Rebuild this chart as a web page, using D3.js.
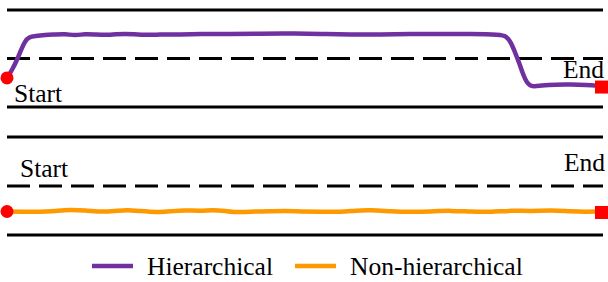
<!DOCTYPE html>
<html lang="en">
<head>
<meta charset="UTF-8">
<title>Hierarchical vs Non-hierarchical</title>
<script src="https://d3js.org/d3.v7.min.js"></script>
<style>
  body { margin: 0; background: #fff; }
  svg text { font-family: "Liberation Serif", "Times New Roman", serif; font-size: 25.5px; fill: #000; }
</style>
</head>
<body>
<script>
// progress along the task (0..100) and height inside each band (0 = lower rule, 1 = upper rule)
const hierX = [0, 0.84, 1.69, 2.36, 3.04, 3.71, 4.72, 6.41, 8.09, 9.78, 11.47, 13.15, 14.84, 17.37, 19.9, 22.43,
  25.8, 29.17, 32.55, 37.6, 42.66, 47.72, 52.78, 57.84, 62.9, 67.96, 73.02, 78.08, 83.14, 83.98, 84.82,
  85.5, 86.17, 86.85, 87.52, 88.36, 89.88, 92.41, 94.94, 97.47, 100];
const hierY = [0.30, 0.38, 0.485, 0.588, 0.68, 0.722, 0.732, 0.742, 0.747, 0.753, 0.737, 0.753, 0.747, 0.742,
  0.758, 0.742, 0.747, 0.747, 0.753, 0.753, 0.756, 0.758, 0.753, 0.747, 0.745, 0.753, 0.753, 0.755,
  0.747, 0.732, 0.67, 0.567, 0.464, 0.34, 0.247, 0.206, 0.222, 0.232, 0.232, 0.227, 0.216];

const flatX = [0, 2.2, 5.6, 8.1, 10.6, 13.2, 15.7, 18.2, 20.2, 22.4, 25.3, 27.5, 29.7, 32.5, 34.7, 36.8, 39,
  41.8, 44.4, 46.9, 49.4, 52.8, 56.2, 58.7, 61.2, 64.6, 68, 71.3, 74.7, 78.1, 81.5, 84.8, 88.2, 91.6,
  94.9, 97.5, 100];
const flatY = [0.24, 0.237, 0.235, 0.245, 0.26, 0.25, 0.237, 0.245, 0.257, 0.245, 0.232, 0.24, 0.255, 0.245,
  0.257, 0.245, 0.23, 0.24, 0.242, 0.245, 0.24, 0.238, 0.235, 0.25, 0.255, 0.242, 0.235, 0.24, 0.25,
  0.237, 0.235, 0.25, 0.243, 0.253, 0.24, 0.237, 0.24];

const seriesNames = ["Hierarchical", "Non-hierarchical"];
const seriesColors = ["#7030a0", "#ff9900"];
const startLabel = "Start", endLabel = "End";
const guideLevels = [0, 0.5, 1]; // solid, dashed, solid

const width = 608, height = 282;
const svg = d3.select("body").append("svg")
  .attr("width", width)
  .attr("height", height);

const x = d3.scaleLinear().domain([0, 100]).range([7, 601]);
const ruleX = [7, 603];

const panels = [
  { xs: hierX, ys: hierY, color: seriesColors[0], y: d3.scaleLinear().domain([0, 1]).range([107, 10]),
    startPos: [14, 102], endPos: [604, 78] },
  { xs: flatX, ys: flatY, color: seriesColors[1], y: d3.scaleLinear().domain([0, 1]).range([235, 137]),
    startPos: [20, 177], endPos: [605, 171] }
];

panels.forEach(function (p) {
  // horizontal guide rules
  svg.selectAll(null)
    .data(guideLevels)
    .enter().append("line")
    .attr("x1", ruleX[0])
    .attr("x2", ruleX[1])
    .attr("y1", d => p.y(d))
    .attr("y2", d => p.y(d))
    .attr("stroke", "#000")
    .attr("stroke-width", 3.2)
    .attr("stroke-dasharray", d => d === 0.5 ? "23,9" : null);

  const pts = p.xs.map((v, i) => [v, p.ys[i]]);
  const line = d3.line()
    .x(d => x(d[0]))
    .y(d => p.y(d[1]))
    .curve(d3.curveBasis);

  svg.append("path")
    .datum(pts)
    .attr("d", line)
    .attr("fill", "none")
    .attr("stroke", p.color)
    .attr("stroke-width", 4.5)
    .attr("stroke-linejoin", "round")
    .attr("stroke-linecap", "round");

  // start / end markers
  const first = pts[0], last = pts[pts.length - 1];
  svg.append("circle")
    .attr("cx", x(first[0]))
    .attr("cy", p.y(first[1]))
    .attr("r", 6.5)
    .attr("fill", "#ff0000");
  svg.append("rect")
    .attr("x", x(last[0]) - 6)
    .attr("y", p.y(last[1]) - 5.5)
    .attr("width", 13)
    .attr("height", 13)
    .attr("fill", "#ff0000");

  svg.append("text")
    .attr("x", p.startPos[0])
    .attr("y", p.startPos[1])
    .text(startLabel);
  svg.append("text")
    .attr("x", p.endPos[0])
    .attr("y", p.endPos[1])
    .attr("text-anchor", "end")
    .text(endLabel);
});

// legend
const legendX = [92, 295];
const legend = svg.selectAll(".legend")
  .data(seriesNames)
  .enter().append("g")
  .attr("class", "legend")
  .attr("transform", (d, i) => "translate(" + legendX[i] + ",266)");

legend.append("line")
  .attr("x1", 0)
  .attr("x2", 41)
  .attr("stroke", (d, i) => seriesColors[i])
  .attr("stroke-width", 4.5);

legend.append("text")
  .attr("x", 55)
  .attr("y", 9)
  .text(d => d);
</script>
</body>
</html>
